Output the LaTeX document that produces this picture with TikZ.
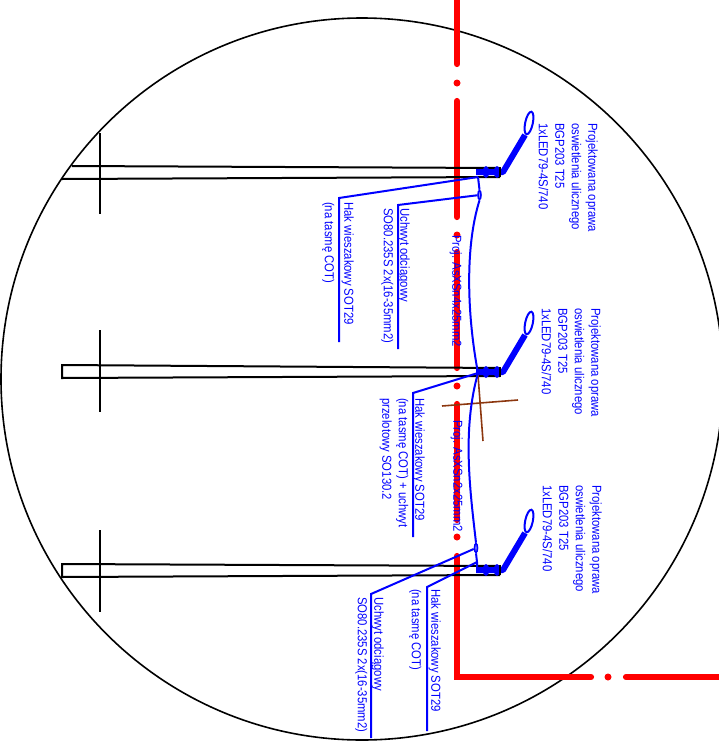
\documentclass[tikz,border=0pt]{standalone}
\usepackage{fontspec}
\setmainfont[FakeStretch=0.87]{Liberation Sans}
\definecolor{pureblue}{RGB}{0,0,255}
\definecolor{purered}{RGB}{255,0,0}
\definecolor{crossbrown}{RGB}{140,55,15}
\tikzset{
  redcable/.style={draw=purered,line width=6.2pt,line cap=round,line join=miter},
  reddot/.style={circle,fill=purered,inner sep=0pt,minimum size=7pt},
  pole/.style={draw=black,line width=2pt},
  polebar/.style={draw=black,line width=2.2pt},
  outline/.style={draw=black,line width=1.6pt},
  leader/.style={draw=pureblue,line width=2pt,line join=miter},
  span/.style={draw=pureblue,line width=2pt},
  arm/.style={draw=pureblue,line width=6pt,line join=round},
  clampmark/.style={ellipse,draw=pureblue,fill=pureblue!40,line width=1.6pt,minimum width=3pt,minimum height=9pt,inner sep=0pt},
  note/.style={rotate=-90,anchor=north west,inner sep=0pt,text=pureblue,align=left,font=\fontsize{13}{16.5}\selectfont},
  cross/.style={draw=crossbrown,line width=1.6pt}
}
\usetikzlibrary{shapes.geometric}
\begin{document}
\begin{tikzpicture}[x=1pt,y=-1pt]
\useasboundingbox (0,0) rectangle (719,750);
\clip (0,0) rectangle (719,750);
\fill[white] (0,0) rectangle (719,750);
% outline circle
\draw[outline] (362,379) circle [radius=361pt];
% red cable
\path[redcable] (457,-5) -- (457,64);
\node[reddot] at (457,83) {};
\path[redcable] (457,101) -- (457,217);
\node[reddot] at (457,235) {};
\path[redcable] (457,252) -- (457,368);
\node[reddot] at (457,386) {};
\path[redcable] (457,404) -- (457,520);
\node[reddot] at (457,537) {};
\path[redcable] (457,556) -- (457,677) -- (591,677);
\node[reddot] at (608,677) {};
\path[redcable] (626,677) -- (725,677);
% poles
\path[pole] (72,166) -- (500,168);
\path[pole] (62,179) -- (500,177);
\path[pole] (500,368) -- (62,365) -- (62,378) -- (500,376);
\path[pole] (500,566) -- (62,564) -- (62,577) -- (500,575);
\path[polebar] (100,133) -- (100,214);
\path[polebar] (100,330) -- (100,412);
\path[polebar] (100,530) -- (100,612);
% arms
\foreach \y in {172,372,570}{
  \path[arm] (476,\y) -- (503,\y) -- (525,\y-37);
  \fill[pureblue] (486,\y) ellipse [x radius=3.2pt,y radius=6pt];
  \fill[pureblue] (497,\y) ellipse [x radius=3.2pt,y radius=6pt];
  \draw[black,line width=2pt] (500,\y-5) -- (500,\y+5);
  \draw[pureblue,line width=2pt] (529,\y-49) ellipse [x radius=3.8pt,y radius=11.5pt,rotate=-12];
}
% cross
\path[cross] (442,406) -- (518,400);
\path[cross] (478,375) -- (483,441);
% span wire
\node[clampmark] (clampA) at (479.5,195) {};
\node[clampmark] (clampB) at (476,548) {};
\coordinate (hookA) at (478,177);
\coordinate (hookB) at (478,373);
\coordinate (hookC) at (477,562);
\path[span] (hookA) -- (clampA.north);
\path[span] (clampA.south) .. controls (464,250) and (468,320) .. (hookB);
\path[span] (hookB) .. controls (462,430) and (470,490) .. (clampB.north);
\path[span] (clampB.south) -- (hookC) -- (477,568);
% leaders
\coordinate (lA) at (339,198); \coordinate (lAe) at (339,342);
\coordinate (lB) at (398,205); \coordinate (lBe) at (398,349);
\coordinate (lC) at (413,393); \coordinate (lCe) at (413,537);
\coordinate (lD) at (427,587); \coordinate (lDe) at (427,731);
\coordinate (lE) at (371,594); \coordinate (lEe) at (371,738);
\path[leader] (hookA) -- (lA) -- (lAe);
\path[leader] (clampA) -- (lB) -- (lBe);
\path[leader] (hookB) -- (lC) -- (lCe);
\path[leader] (hookC) -- (lD) -- (lDe);
\path[leader] (clampB) -- (lE) -- (lEe);
% lamp notes
\node[note] (lampA) at (598,123) {Projektowana oprawa\\oswietlenia ulicznego\\BGP203 T25\\1xLED79-4S/740};
\node[note] (lampB) at (601,308) {Projektowana oprawa\\oswietlenia ulicznego\\BGP203 T25\\1xLED79-4S/740};
\node[note] (lampC) at (602,485) {Projektowana oprawa\\oswietlenia ulicznego\\BGP203 T25\\1xLED79-4S/740};
% leader notes
\node[note] (hakA) at (354,202) {Hak wieszakowy SOT29\\[3pt](na tasmę COT)};
\node[note] (uchA) at (410,208) {Uchwyt odciągowy\\SO80.235S 2x(16-35mm2)};
\node[note] (hakB) at (425,398) {Hak wieszakowy SOT29\\(na tasmę COT) + uchwyt\\przelotowy SO130.2};
\node[note] (hakC) at (441,589) {Hak wieszakowy SOT29\\[3pt](na tasmę COT)};
\node[note] (uchC) at (384,597) {Uchwyt odciągowy\\SO80.235S 2x(16-35mm2)};
% cable notes
\node[note] (cabA) at (462,235) {Proj. AsXSn4x25mm2};
\node[note] (cabB) at (463,420) {Proj. AsXSn2x25mm2};
\end{tikzpicture}
\end{document}
